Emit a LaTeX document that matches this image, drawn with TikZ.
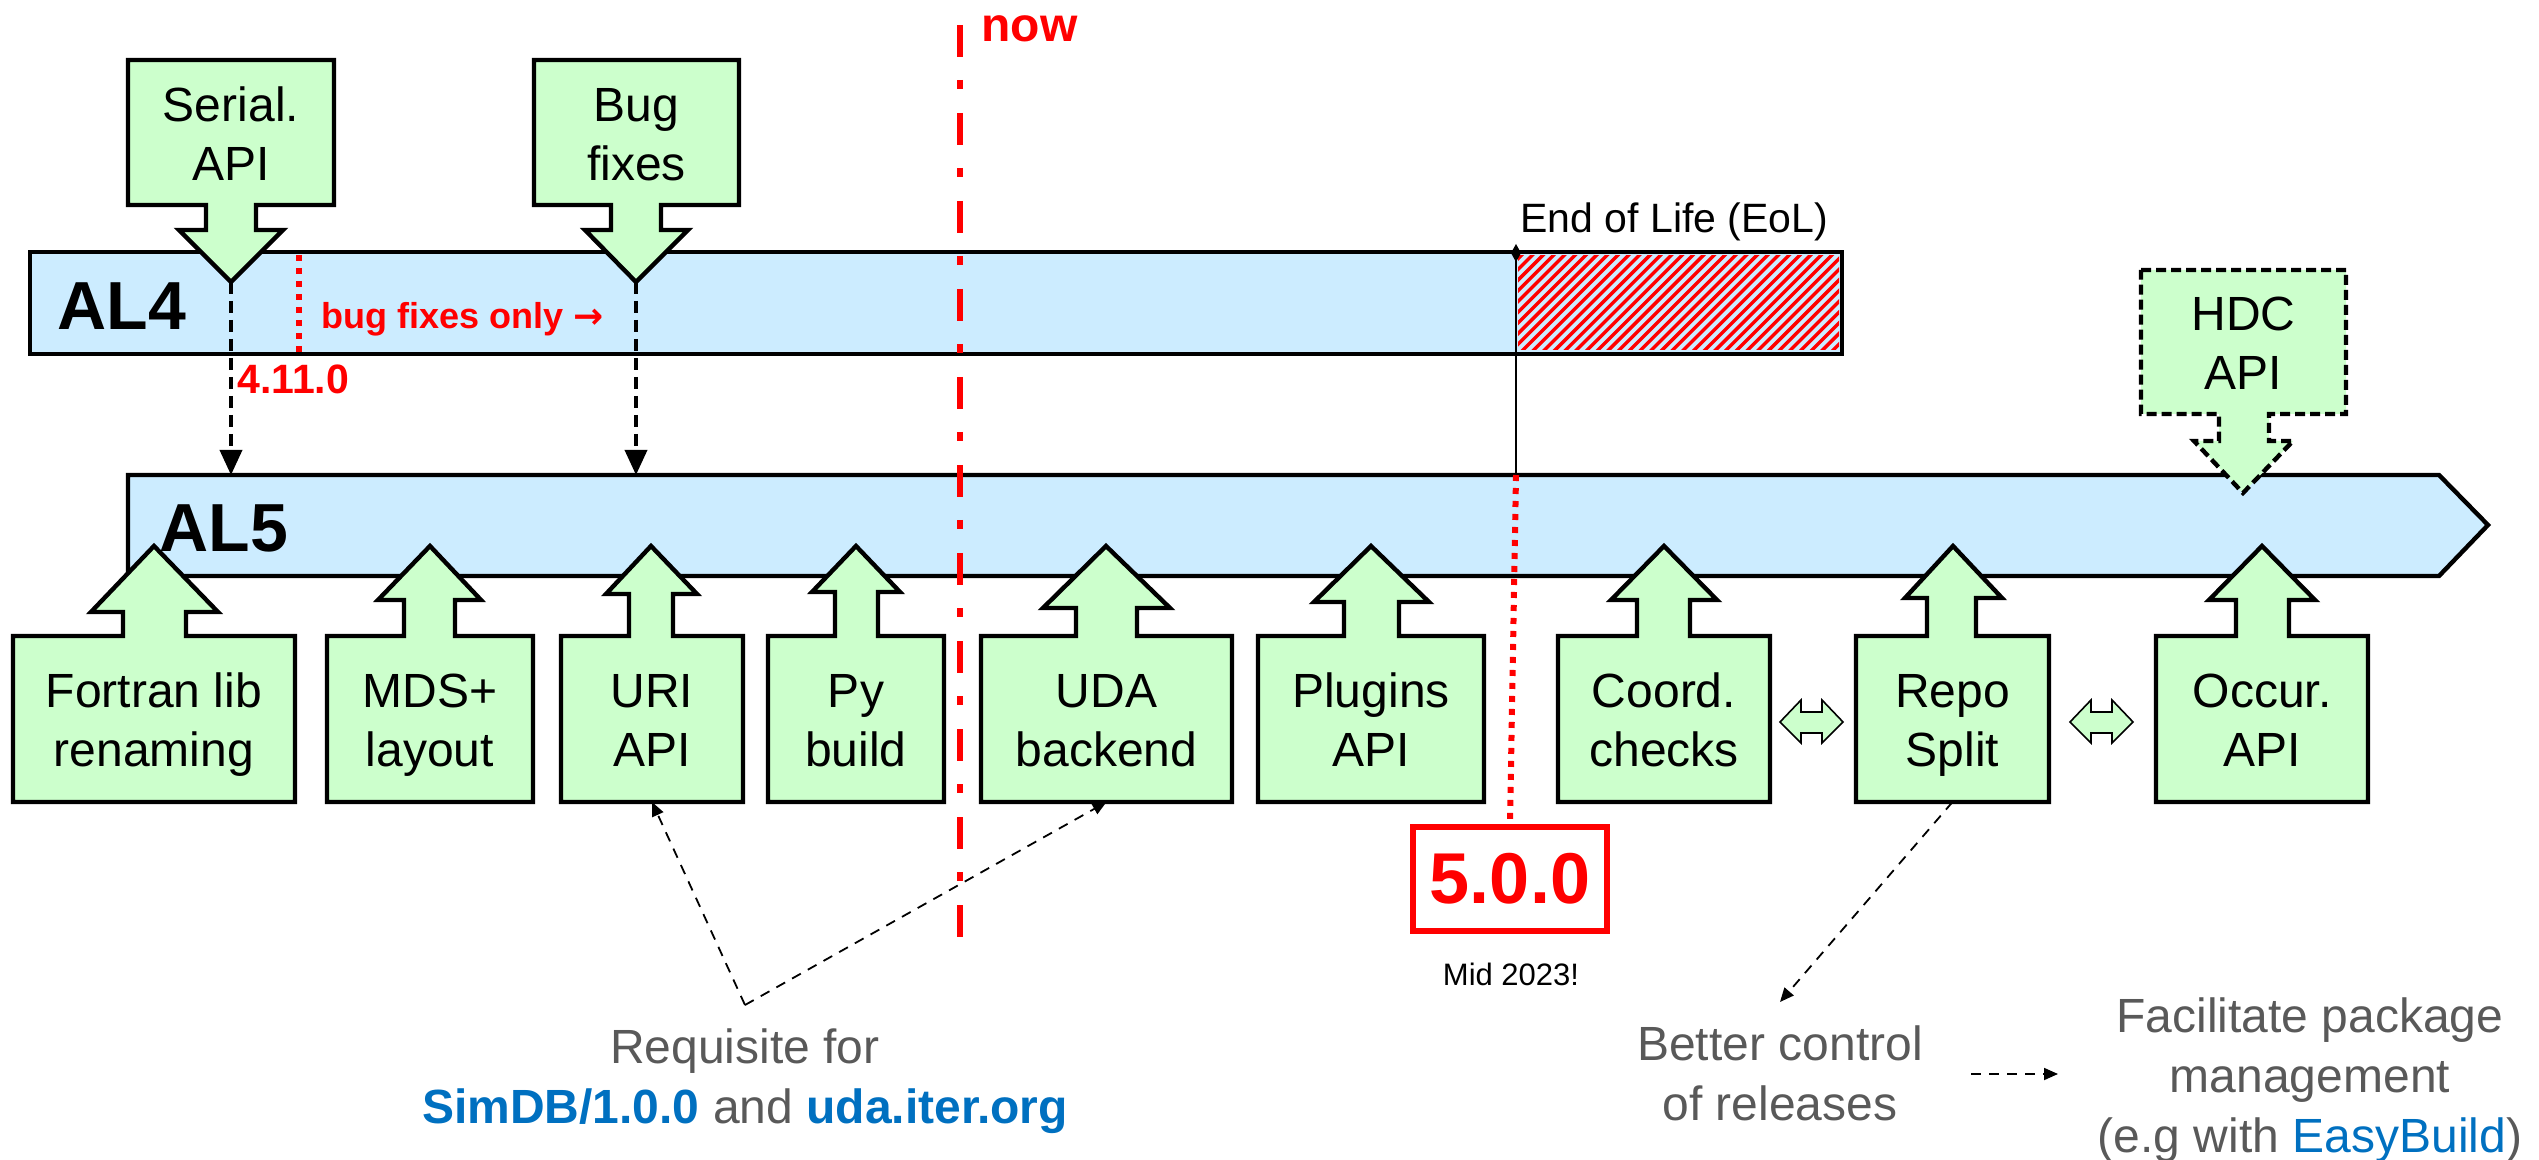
\documentclass[tikz,border=0pt]{standalone}
\usepackage{fontspec}
\setmainfont{Liberation Sans}
\newfontfamily\djv{DejaVu Sans}
\usetikzlibrary{arrows.meta}
\definecolor{boxgreen}{HTML}{CCFFCC}
\definecolor{barblue}{HTML}{CCECFF}
\definecolor{tgray}{HTML}{595959}
\definecolor{tblue}{HTML}{0070C0}
\definecolor{myred}{HTML}{FF0000}
\begin{document}
\begin{tikzpicture}[x=0.5pt,y=-0.5pt,
  callout/.style={draw=black, fill=boxgreen, line width=2.2pt, line join=miter},
  hdccallout/.style={draw=black, fill=boxgreen, line width=2.2pt, dash pattern=on 5pt off 2.5pt},
  bar/.style={draw=black, fill=barblue, line width=2.2pt},
  boxtext/.style={align=center, font=\fontsize{24}{29.5}\selectfont, inner sep=0pt},
  graytext/.style={align=center, text=tgray, font=\fontsize{24}{30}\selectfont, inner sep=0pt},
  bigdash/.style={draw=black, line width=1.8pt, dash pattern=on 6pt off 3.5pt, -{Triangle[length=12.5pt,width=11pt]}},
  thindash/.style={draw=black, line width=0.9pt, dash pattern=on 5pt off 4pt, -{Triangle[length=7pt,width=6pt]}},
  reddot/.style={draw=myred, line width=3pt, dash pattern=on 3pt off 3.5pt},
  dblarrow/.style={draw=black, fill=boxgreen, line width=0.8pt}
]
\useasboundingbox (0,0) rectangle (2539,1160);

% AL4 bar with hatched end of life part
\fill[barblue] (30,252) rectangle (1842,354);
\begin{scope}
  \clip (1518,256) rectangle (1839,350);
  \foreach \k in {0,...,40} {
    \draw[myred, line width=1.7pt] ({1410+\k*10.7},356) -- ({1514+\k*10.7},252);
  }
\end{scope}
\draw[black, line width=2.2pt] (30,252) rectangle (1842,354);
\draw[reddot] (299,255) -- (299,354);

% AL5 bar
\draw[bar] (128,475) -- (2439,475) -- (2488,525) -- (2439,576) -- (128,576) -- cycle;

% now line
\draw[myred, line width=3pt, dash pattern=on 16pt off 11.5pt on 4.5pt off 12pt] (960,25) -- (960,937);
\node[anchor=base west, inner sep=0pt, text=myred, font=\bfseries\fontsize{24}{24}\selectfont] (now) at (981,42) {now};

% End of life marker
\coordinate (eolTop) at (1516,252);
\coordinate (eolBot) at (1516,475);
\draw[black, line width=1pt] (eolTop) -- (eolBot);
\fill[black] (1516,244) -- (1521,253) -- (1516,262) -- (1511,253) -- cycle;
\node[anchor=base west, inner sep=0pt, font=\fontsize{20.5}{20.5}\selectfont] (eol) at (1520,233) {End of Life (EoL)};

% 5.0.0 box
\node[draw=myred, line width=3pt, minimum width=97pt, minimum height=52pt, inner sep=0pt,
      text=myred, font=\bfseries\fontsize{36}{36}\selectfont] (v500) at (1510,879) {5.0.0};
\draw[reddot] (eolBot) -- (v500.north);
\node[inner sep=0pt, font=\fontsize{15.5}{15.5}\selectfont, anchor=base] (mid) at (1511,985) {Mid 2023!};

% downward callouts
\foreach \n/\xa/\xb/\sa/\sb/\ha/\hb/\tx/\txt in {
  serial/128/334/206/256/179/283/231/{Serial.\\API},
  bug/534/739/611/661/585/688/636/{Bug\\fixes}}
{
  \draw[callout] (\xa,60) -- (\xb,60) -- (\xb,205) -- (\sb,205) -- (\sb,230) -- (\hb,230) -- (\tx,282) -- (\ha,230) -- (\sa,230) -- (\sa,205) -- (\xa,205) -- cycle;
  \node[boxtext] (\n) at ({(\xa+\xb)/2},139) {\strut\txt\strut};
  \coordinate (\n-tip) at (\tx,282);
  \coordinate (\n-al5) at (\tx,475);
}

% HDC callout (planned)
\draw[hdccallout] (2141,270) -- (2346,270) -- (2346,414) -- (2269,414) -- (2269,441) -- (2293,441) -- (2243,493) -- (2194,441) -- (2219,441) -- (2219,414) -- (2141,414) -- cycle;
\node[boxtext] (hdc) at (2243.5,348) {\strut HDC\\API\strut};

% upward callouts
\foreach \n/\xa/\xb/\sa/\sb/\sh/\ha/\hb/\tx/\txt in {
  fortran/13/295/123/186/612/91/218/154/{Fortran lib\\renaming},
  mds/327/533/404/455/600/378/481/430/{MDS+\\layout},
  uri/561/743/629/673/594/606/697/651/{URI\\API},
  py/768/944/835/878/592/812/900/856/{Py\\build},
  uda/981/1232/1076/1137/608/1043/1170/1106/{UDA\\backend},
  plugins/1258/1484/1344/1399/602/1314/1429/1371/{Plugins\\API},
  coord/1558/1770/1637/1690/600/1611/1717/1664/{Coord.\\checks},
  repo/1856/2049/1927/1976/598/1905/2002/1953/{Repo\\Split},
  occur/2156/2368/2236/2289/600/2209/2315/2262/{Occur.\\API}}
{
  \draw[callout] (\xa,802) -- (\xa,636) -- (\sa,636) -- (\sa,\sh) -- (\ha,\sh) -- (\tx,546) -- (\hb,\sh) -- (\sb,\sh) -- (\sb,636) -- (\xb,636) -- (\xb,802) -- cycle;
  \node[boxtext] (\n) at ({(\xa+\xb)/2},725) {\strut\txt\strut};
  \coordinate (\n-b) at ({(\xa+\xb)/2},802);
}

% double arrows between boxes
\foreach \xo in {1780,2070} {
  \draw[dblarrow] (\xo,722) -- ({\xo+21},700) -- ({\xo+21},712) -- ({\xo+42},712) -- ({\xo+42},700) -- ({\xo+63},722) -- ({\xo+42},743) -- ({\xo+42},733) -- ({\xo+21},733) -- ({\xo+21},743) -- cycle;
}

% bar labels
\node[anchor=base west, inner sep=0pt, font=\bfseries\fontsize{34}{34}\selectfont] (al4) at (57,330) {AL4};
\node[anchor=base west, inner sep=0pt, font=\bfseries\fontsize{34}{34}\selectfont] (al5) at (159,552) {AL5};
\node[anchor=base west, inner sep=0pt, text=myred, font=\bfseries\fontsize{20.5}{20.5}\selectfont] (v411) at (237,394) {4.11.0};
\node[anchor=base west, inner sep=0pt, text=myred, font=\bfseries\fontsize{18}{18}\selectfont] (bfo) at (321,329) {bug fixes only {\djv\bfseries →}};

% merges AL4 -> AL5
\draw[bigdash] (serial-tip) -- (serial-al5);
\draw[bigdash] (bug-tip) -- (bug-al5);

% bottom texts
\node[graytext] (req) at (745,1081) {\strut Requisite for\\{\bfseries\color{tblue}SimDB/1.0.0} and {\bfseries\color{tblue}uda.iter.org}\strut};
\coordinate (reqv) at (745,1005);
\draw[thindash] (reqv) -- (uri-b);
\draw[thindash] (reqv) -- (uda-b);

\node[graytext] (better) at (1780,1078) {\strut Better control\\of releases\strut};
\coordinate (betterTop) at (1780,1002);
\draw[thindash] (repo-b) -- (betterTop);

\node[graytext] (facil) at (2310,1080) {\strut Facilitate package\\management\\(e.g with {\color{tblue}EasyBuild})\strut};
\coordinate (bfa) at (1971,1074);
\coordinate (bfb) at (2058,1074);
\draw[thindash] (bfa) -- (bfb);
\end{tikzpicture}
\end{document}
